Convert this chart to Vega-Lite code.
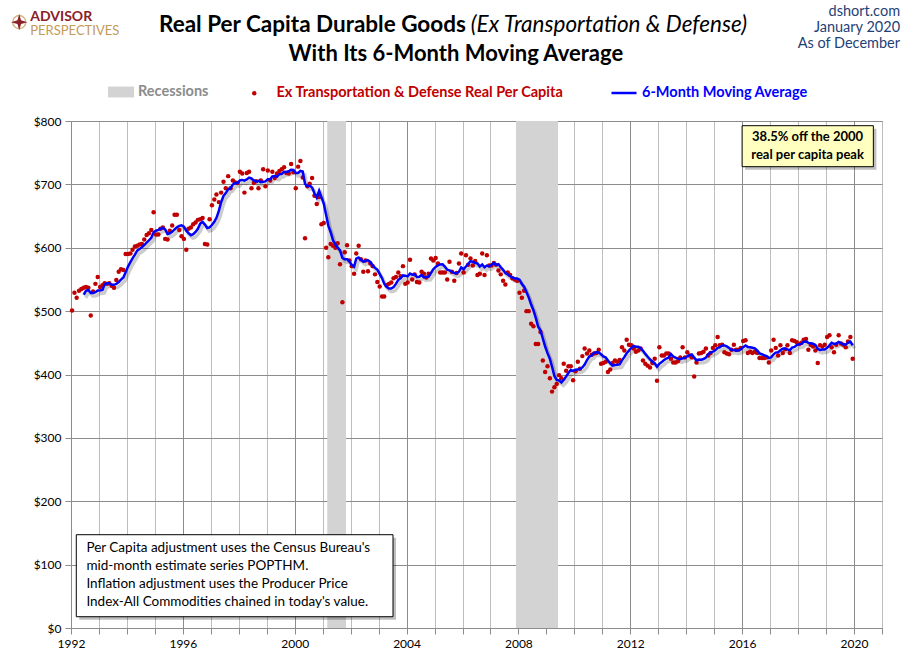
{
  "$schema": "https://vega.github.io/schema/vega-lite/v6.json",
  "width": 811,
  "height": 507,
  "autosize": {"type": "none"},
  "padding": {"left": 71, "top": 121, "right": 28, "bottom": 33},
  "background": "white",
  "config": {
    "font": "Lato",
    "view": {"stroke": "#8c8c8c", "strokeWidth": 1},
    "axis": {"labelFont": "Lato", "labelFontSize": 12, "labelColor": "#000000", "tickColor": "#8c8c8c", "domainColor": "#8c8c8c", "gridOpacity": 1, "tickSize": 6, "labelPadding": 4},
    "legend": {"labelFont": "Lato", "labelFontSize": 14.5, "labelFontWeight": "bold", "labelLimit": 400, "padding": 0}
  },
  "datasets": {
    "dur": [
      {"d":"1992-01-15","v":501},{"d":"1992-02-15","v":529},{"d":"1992-03-15","v":521},{"d":"1992-04-15","v":532},{"d":"1992-05-15","v":535},{"d":"1992-06-15","v":537},{"d":"1992-07-15","v":538},{"d":"1992-08-15","v":537},{"d":"1992-09-15","v":493},{"d":"1992-10-15","v":531},{"d":"1992-11-15","v":543},{"d":"1992-12-15","v":554},
      {"d":"1993-01-15","v":538},{"d":"1993-02-15","v":541},{"d":"1993-03-15","v":544},{"d":"1993-04-15","v":543},{"d":"1993-05-15","v":544},{"d":"1993-06-15","v":540},{"d":"1993-07-15","v":537},{"d":"1993-08-15","v":549},{"d":"1993-09-15","v":562},{"d":"1993-10-15","v":566},{"d":"1993-11-15","v":565},{"d":"1993-12-15","v":590},
      {"d":"1994-01-15","v":590},{"d":"1994-02-15","v":591},{"d":"1994-03-15","v":597},{"d":"1994-04-15","v":602},{"d":"1994-05-15","v":603},{"d":"1994-06-15","v":605},{"d":"1994-07-15","v":606},{"d":"1994-08-15","v":613},{"d":"1994-09-15","v":620},{"d":"1994-10-15","v":623},{"d":"1994-11-15","v":628},{"d":"1994-12-15","v":656},
      {"d":"1995-01-15","v":621},{"d":"1995-02-15","v":621},{"d":"1995-03-15","v":630},{"d":"1995-04-15","v":632},{"d":"1995-05-15","v":614},{"d":"1995-06-15","v":613},{"d":"1995-07-15","v":627},{"d":"1995-08-15","v":635},{"d":"1995-09-15","v":652},{"d":"1995-10-15","v":652},{"d":"1995-11-15","v":628},{"d":"1995-12-15","v":618},
      {"d":"1996-01-15","v":614},{"d":"1996-02-15","v":597},{"d":"1996-03-15","v":630},{"d":"1996-04-15","v":632},{"d":"1996-05-15","v":637},{"d":"1996-06-15","v":640},{"d":"1996-07-15","v":644},{"d":"1996-08-15","v":645},{"d":"1996-09-15","v":647},{"d":"1996-10-15","v":606},{"d":"1996-11-15","v":605},{"d":"1996-12-15","v":645},
      {"d":"1997-01-15","v":667},{"d":"1997-02-15","v":676},{"d":"1997-03-15","v":684},{"d":"1997-04-15","v":672},{"d":"1997-05-15","v":687},{"d":"1997-06-15","v":704},{"d":"1997-07-15","v":694},{"d":"1997-08-15","v":713},{"d":"1997-09-15","v":694},{"d":"1997-10-15","v":706},{"d":"1997-11-15","v":703},{"d":"1997-12-15","v":702},
      {"d":"1998-01-15","v":720},{"d":"1998-02-15","v":717},{"d":"1998-03-15","v":687},{"d":"1998-04-15","v":718},{"d":"1998-05-15","v":720},{"d":"1998-06-15","v":694},{"d":"1998-07-15","v":702},{"d":"1998-08-15","v":705},{"d":"1998-09-15","v":694},{"d":"1998-10-15","v":706},{"d":"1998-11-15","v":724},{"d":"1998-12-15","v":697},
      {"d":"1999-01-15","v":722},{"d":"1999-02-15","v":706},{"d":"1999-03-15","v":720},{"d":"1999-04-15","v":710},{"d":"1999-05-15","v":717},{"d":"1999-06-15","v":721},{"d":"1999-07-15","v":724},{"d":"1999-08-15","v":727},{"d":"1999-09-15","v":718},{"d":"1999-10-15","v":717},{"d":"1999-11-15","v":732},{"d":"1999-12-15","v":719},
      {"d":"2000-01-15","v":694},{"d":"2000-02-15","v":728},{"d":"2000-03-15","v":737},{"d":"2000-04-15","v":711},{"d":"2000-05-15","v":615},{"d":"2000-06-15","v":697},{"d":"2000-07-15","v":701},{"d":"2000-08-15","v":710},{"d":"2000-09-15","v":682},{"d":"2000-10-15","v":669},{"d":"2000-11-15","v":680},{"d":"2000-12-15","v":637},
      {"d":"2001-01-15","v":639},{"d":"2001-02-15","v":600},{"d":"2001-03-15","v":585},{"d":"2001-04-15","v":606},{"d":"2001-05-15","v":603},{"d":"2001-06-15","v":600},{"d":"2001-07-15","v":607},{"d":"2001-08-15","v":574},{"d":"2001-09-15","v":514},{"d":"2001-10-15","v":593},{"d":"2001-11-15","v":604},{"d":"2001-12-15","v":580},
      {"d":"2002-01-15","v":571},{"d":"2002-02-15","v":559},{"d":"2002-03-15","v":591},{"d":"2002-04-15","v":603},{"d":"2002-05-15","v":582},{"d":"2002-06-15","v":562},{"d":"2002-07-15","v":580},{"d":"2002-08-15","v":563},{"d":"2002-09-15","v":575},{"d":"2002-10-15","v":571},{"d":"2002-11-15","v":558},{"d":"2002-12-15","v":546},
      {"d":"2003-01-15","v":539},{"d":"2003-02-15","v":523},{"d":"2003-03-15","v":523},{"d":"2003-04-15","v":541},{"d":"2003-05-15","v":543},{"d":"2003-06-15","v":545},{"d":"2003-07-15","v":552},{"d":"2003-08-15","v":554},{"d":"2003-09-15","v":561},{"d":"2003-10-15","v":555},{"d":"2003-11-15","v":571},{"d":"2003-12-15","v":543},
      {"d":"2004-01-15","v":545},{"d":"2004-02-15","v":581},{"d":"2004-03-15","v":550},{"d":"2004-04-15","v":558},{"d":"2004-05-15","v":546},{"d":"2004-06-15","v":545},{"d":"2004-07-15","v":562},{"d":"2004-08-15","v":559},{"d":"2004-09-15","v":553},{"d":"2004-10-15","v":559},{"d":"2004-11-15","v":583},{"d":"2004-12-15","v":580},
      {"d":"2005-01-15","v":584},{"d":"2005-02-15","v":575},{"d":"2005-03-15","v":561},{"d":"2005-04-15","v":561},{"d":"2005-05-15","v":561},{"d":"2005-06-15","v":550},{"d":"2005-07-15","v":578},{"d":"2005-08-15","v":562},{"d":"2005-09-15","v":548},{"d":"2005-10-15","v":560},{"d":"2005-11-15","v":575},{"d":"2005-12-15","v":591},
      {"d":"2006-01-15","v":561},{"d":"2006-02-15","v":588},{"d":"2006-03-15","v":573},{"d":"2006-04-15","v":583},{"d":"2006-05-15","v":572},{"d":"2006-06-15","v":579},{"d":"2006-07-15","v":557},{"d":"2006-08-15","v":559},{"d":"2006-09-15","v":591},{"d":"2006-10-15","v":557},{"d":"2006-11-15","v":588},{"d":"2006-12-15","v":572},
      {"d":"2007-01-15","v":572},{"d":"2007-02-15","v":576},{"d":"2007-03-15","v":573},{"d":"2007-04-15","v":564},{"d":"2007-05-15","v":558},{"d":"2007-06-15","v":548},{"d":"2007-07-15","v":542},{"d":"2007-08-15","v":561},{"d":"2007-09-15","v":557},{"d":"2007-10-15","v":552},{"d":"2007-11-15","v":550},{"d":"2007-12-15","v":548},
      {"d":"2008-01-15","v":529},{"d":"2008-02-15","v":521},{"d":"2008-03-15","v":532},{"d":"2008-04-15","v":500},{"d":"2008-05-15","v":500},{"d":"2008-06-15","v":480},{"d":"2008-07-15","v":476},{"d":"2008-08-15","v":448},{"d":"2008-09-15","v":448},{"d":"2008-10-15","v":467},{"d":"2008-11-15","v":422},{"d":"2008-12-15","v":404},
      {"d":"2009-01-15","v":413},{"d":"2009-02-15","v":394},{"d":"2009-03-15","v":373},{"d":"2009-04-15","v":380},{"d":"2009-05-15","v":385},{"d":"2009-06-15","v":399},{"d":"2009-07-15","v":394},{"d":"2009-08-15","v":417},{"d":"2009-09-15","v":406},{"d":"2009-10-15","v":413},{"d":"2009-11-15","v":413},{"d":"2009-12-15","v":391},
      {"d":"2010-01-15","v":405},{"d":"2010-02-15","v":420},{"d":"2010-03-15","v":409},{"d":"2010-04-15","v":429},{"d":"2010-05-15","v":441},{"d":"2010-06-15","v":433},{"d":"2010-07-15","v":438},{"d":"2010-08-15","v":431},{"d":"2010-09-15","v":433},{"d":"2010-10-15","v":434},{"d":"2010-11-15","v":439},{"d":"2010-12-15","v":417},
      {"d":"2011-01-15","v":418},{"d":"2011-02-15","v":420},{"d":"2011-03-15","v":404},{"d":"2011-04-15","v":408},{"d":"2011-05-15","v":418},{"d":"2011-06-15","v":422},{"d":"2011-07-15","v":420},{"d":"2011-08-15","v":423},{"d":"2011-09-15","v":443},{"d":"2011-10-15","v":438},{"d":"2011-11-15","v":455},{"d":"2011-12-15","v":447},
      {"d":"2012-01-15","v":446},{"d":"2012-02-15","v":441},{"d":"2012-03-15","v":436},{"d":"2012-04-15","v":438},{"d":"2012-05-15","v":441},{"d":"2012-06-15","v":422},{"d":"2012-07-15","v":417},{"d":"2012-08-15","v":414},{"d":"2012-09-15","v":411},{"d":"2012-10-15","v":418},{"d":"2012-11-15","v":425},{"d":"2012-12-15","v":390},
      {"d":"2013-01-15","v":443},{"d":"2013-02-15","v":430},{"d":"2013-03-15","v":430},{"d":"2013-04-15","v":433},{"d":"2013-05-15","v":433},{"d":"2013-06-15","v":425},{"d":"2013-07-15","v":419},{"d":"2013-08-15","v":419},{"d":"2013-09-15","v":421},{"d":"2013-10-15","v":427},{"d":"2013-11-15","v":443},{"d":"2013-12-15","v":427},
      {"d":"2014-01-15","v":435},{"d":"2014-02-15","v":430},{"d":"2014-03-15","v":427},{"d":"2014-04-15","v":397},{"d":"2014-05-15","v":419},{"d":"2014-06-15","v":433},{"d":"2014-07-15","v":434},{"d":"2014-08-15","v":436},{"d":"2014-09-15","v":441},{"d":"2014-10-15","v":430},{"d":"2014-11-15","v":434},{"d":"2014-12-15","v":442},
      {"d":"2015-01-15","v":446},{"d":"2015-02-15","v":459},{"d":"2015-03-15","v":446},{"d":"2015-04-15","v":447},{"d":"2015-05-15","v":435},{"d":"2015-06-15","v":433},{"d":"2015-07-15","v":432},{"d":"2015-08-15","v":439},{"d":"2015-09-15","v":447},{"d":"2015-10-15","v":439},{"d":"2015-11-15","v":439},{"d":"2015-12-15","v":442},
      {"d":"2016-01-15","v":453},{"d":"2016-02-15","v":454},{"d":"2016-03-15","v":434},{"d":"2016-04-15","v":436},{"d":"2016-05-15","v":434},{"d":"2016-06-15","v":436},{"d":"2016-07-15","v":434},{"d":"2016-08-15","v":426},{"d":"2016-09-15","v":426},{"d":"2016-10-15","v":426},{"d":"2016-11-15","v":427},{"d":"2016-12-15","v":419},
      {"d":"2017-01-15","v":438},{"d":"2017-02-15","v":455},{"d":"2017-03-15","v":442},{"d":"2017-04-15","v":430},{"d":"2017-05-15","v":446},{"d":"2017-06-15","v":434},{"d":"2017-07-15","v":440},{"d":"2017-08-15","v":446},{"d":"2017-09-15","v":434},{"d":"2017-10-15","v":454},{"d":"2017-11-15","v":453},{"d":"2017-12-15","v":451},
      {"d":"2018-01-15","v":448},{"d":"2018-02-15","v":450},{"d":"2018-03-15","v":455},{"d":"2018-04-15","v":456},{"d":"2018-05-15","v":439},{"d":"2018-06-15","v":447},{"d":"2018-07-15","v":444},{"d":"2018-08-15","v":438},{"d":"2018-09-15","v":418},{"d":"2018-10-15","v":446},{"d":"2018-11-15","v":444},{"d":"2018-12-15","v":447},
      {"d":"2019-01-15","v":459},{"d":"2019-02-15","v":462},{"d":"2019-03-15","v":443},{"d":"2019-04-15","v":435},{"d":"2019-05-15","v":447},{"d":"2019-06-15","v":462},{"d":"2019-07-15","v":449},{"d":"2019-08-15","v":447},{"d":"2019-09-15","v":443},{"d":"2019-10-15","v":452},{"d":"2019-11-15","v":459},{"d":"2019-12-15","v":425}
    ]
  },
  "layer": [
    {
      "data": {"values": [{"s": "2001-03-01", "e": "2001-11-01"}, {"s": "2007-12-01", "e": "2009-06-01"}]},
      "mark": {"type": "rect"},
      "encoding": {
        "x": {"field": "s", "type": "temporal", "title": null},
        "x2": {"field": "e"},
        "fill": {
          "datum": "Recessions", "type": "nominal",
          "scale": {"range": ["#d3d3d3"]},
          "legend": {"orient": "none", "legendX": 37, "legendY": -42, "title": null, "symbolType": "M-1,-0.42H1V0.42H-1Z", "symbolSize": 676, "symbolStrokeWidth": 0, "symbolFillColor": "#d3d3d3", "labelColor": "#8c8c8c", "labelOffset": 4}
        }
      }
    },
    {
      "data": {"name": "dur"},
      "transform": [
        {"window": [{"op": "mean", "field": "v", "as": "ma"}, {"op": "count", "as": "n"}], "frame": [-5, 0], "sort": [{"field": "d", "order": "ascending"}]},
        {"filter": "datum.n == 6"}
      ],
      "mark": {"type": "line", "stroke": "#000000", "opacity": 0.2, "strokeWidth": 3.5, "xOffset": 2, "yOffset": 3},
      "encoding": {
        "x": {"field": "d", "type": "temporal", "title": null},
        "y": {"field": "ma", "type": "quantitative", "title": null}
      }
    },
    {
      "data": {"name": "dur"},
      "mark": {"type": "point", "filled": true, "size": 20, "opacity": 1},
      "encoding": {
        "x": {
          "field": "d", "type": "temporal", "title": null,
          "scale": {"type": "utc", "domain": [{"year": 1992, "month": 1, "date": 1, "utc": true}, {"year": 2021, "month": 1, "date": 1, "utc": true}], "nice": false},
          "axis": {
            "tickCount": {"interval": "year", "step": 1},
            "format": "%Y",
            "labelExpr": "utcyear(datum.value) % 4 == 0 ? datum.label : ''",
            "labelOverlap": false,
            "labelFlush": false,
            "gridColor": {"condition": {"test": "utcyear(datum.value) % 4 == 0", "value": "#8c8c8c"}, "value": "#bdbdbd"}
          }
        },
        "y": {
          "field": "v", "type": "quantitative", "title": null,
          "scale": {"domain": [0, 800], "nice": false},
          "axis": {"values": [0, 100, 200, 300, 400, 500, 600, 700, 800], "format": "$,.0f", "gridColor": "#8c8c8c"}
        },
        "color": {
          "datum": "Ex Transportation & Defense Real Per Capita", "type": "nominal",
          "scale": {"range": ["#c00000"]},
          "legend": {"orient": "none", "legendX": 176, "legendY": -35, "title": null, "symbolType": "circle", "symbolSize": 20, "symbolFillColor": "#c00000", "symbolStrokeWidth": 0, "labelColor": "#c00000", "labelOffset": 15}
        }
      }
    },
    {
      "data": {"name": "dur"},
      "transform": [
        {"window": [{"op": "mean", "field": "v", "as": "ma"}, {"op": "count", "as": "n"}], "frame": [-5, 0], "sort": [{"field": "d", "order": "ascending"}]},
        {"filter": "datum.n == 6"}
      ],
      "mark": {"type": "line", "strokeWidth": 2.5},
      "encoding": {
        "x": {"field": "d", "type": "temporal", "title": null},
        "y": {"field": "ma", "type": "quantitative", "title": null},
        "stroke": {
          "datum": "6-Month Moving Average", "type": "nominal",
          "scale": {"range": ["#0000ff"]},
          "legend": {"orient": "none", "legendX": 539, "legendY": -42, "title": null, "symbolType": "stroke", "symbolSize": 625, "symbolStrokeWidth": 2.5, "symbolStrokeColor": "#0000ff", "labelColor": "#0000ff", "labelOffset": 4}
        }
      }
    },
    {
      "data": {"values": [{}]},
      "mark": {"type": "rect", "fill": "#000000", "opacity": 0.25, "xOffset": 3, "x2Offset": 3, "yOffset": 3, "y2Offset": 3},
      "encoding": {
        "x": {"datum": {"year": 2016, "month": 1, "date": 1, "utc": true}, "type": "temporal", "title": null},
        "x2": {"datum": {"year": 2020, "month": 9, "date": 10, "utc": true}},
        "y": {"datum": 792.6, "type": "quantitative", "title": null},
        "y2": {"datum": 727.9}
      }
    },
    {
      "data": {"values": [{}]},
      "mark": {"type": "rect", "fill": "#ffffc0", "stroke": "#000000", "strokeWidth": 1},
      "encoding": {
        "x": {"datum": {"year": 2016, "month": 1, "date": 1, "utc": true}, "type": "temporal", "title": null},
        "x2": {"datum": {"year": 2020, "month": 9, "date": 10, "utc": true}},
        "y": {"datum": 792.6, "type": "quantitative", "title": null},
        "y2": {"datum": 727.9}
      }
    },
    {
      "data": {"values": [{}]},
      "mark": {"type": "text", "text": ["38.5% off the 2000", "real per capita peak"], "font": "Lato", "fontSize": 13, "fontWeight": "bold", "color": "#000000", "align": "center", "baseline": "middle", "lineHeight": 18},
      "encoding": {
        "x": {"datum": {"year": 2018, "month": 5, "date": 5, "utc": true}, "type": "temporal", "title": null},
        "y": {"datum": 774.8, "type": "quantitative", "title": null}
      }
    },
    {
      "data": {"values": [{}]},
      "mark": {"type": "rect", "fill": "#000000", "opacity": 0.25, "xOffset": 3, "x2Offset": 3, "yOffset": 3, "y2Offset": 3},
      "encoding": {
        "x": {"datum": {"year": 1992, "month": 3, "date": 10, "utc": true}, "type": "temporal", "title": null},
        "x2": {"datum": {"year": 2003, "month": 7, "date": 8, "utc": true}},
        "y": {"datum": 147.2, "type": "quantitative", "title": null},
        "y2": {"datum": 17.8}
      }
    },
    {
      "data": {"values": [{}]},
      "mark": {"type": "rect", "fill": "#ffffff", "stroke": "#000000", "strokeWidth": 1},
      "encoding": {
        "x": {"datum": {"year": 1992, "month": 3, "date": 10, "utc": true}, "type": "temporal", "title": null},
        "x2": {"datum": {"year": 2003, "month": 7, "date": 8, "utc": true}},
        "y": {"datum": 147.2, "type": "quantitative", "title": null},
        "y2": {"datum": 17.8}
      }
    },
    {
      "data": {"values": [{}]},
      "mark": {"type": "text", "text": ["Per Capita adjustment uses the Census Bureau's", "mid-month estimate series POPTHM.", "Inflation adjustment uses the Producer Price", "Index-All Commodities chained in today's value."], "font": "Lato", "fontSize": 13.5, "color": "#000000", "align": "left", "baseline": "middle", "lineHeight": 18},
      "encoding": {
        "x": {"datum": {"year": 1992, "month": 7, "date": 20, "utc": true}, "type": "temporal", "title": null},
        "y": {"datum": 126.2, "type": "quantitative", "title": null}
      }
    },
    {
      "data": {"values": [{}]},
      "mark": {"type": "text", "text": "Real Per Capita Durable Goods", "font": "Lato", "fontSize": 22.5, "fontWeight": "bold", "color": "#000000", "align": "right", "baseline": "middle"},
      "encoding": {
        "x": {"datum": {"year": 2006, "month": 2, "date": 14, "utc": true}, "type": "temporal", "title": null},
        "y": {"datum": 951.5, "type": "quantitative", "title": null}
      }
    },
    {
      "data": {"values": [{}]},
      "mark": {"type": "text", "text": "(Ex Transportation & Defense)", "font": "Lato", "fontSize": 22.5, "fontStyle": "italic", "fontWeight": "normal", "color": "#000000", "align": "left", "baseline": "middle"},
      "encoding": {
        "x": {"datum": {"year": 2006, "month": 4, "date": 19, "utc": true}, "type": "temporal", "title": null},
        "y": {"datum": 951.5, "type": "quantitative", "title": null}
      }
    },
    {
      "data": {"values": [{}]},
      "mark": {"type": "text", "text": "With Its 6-Month Moving Average", "font": "Lato", "fontSize": 22, "fontWeight": "bold", "color": "#000000", "align": "center", "baseline": "middle"},
      "encoding": {
        "x": {"datum": {"year": 2005, "month": 10, "date": 6, "utc": true}, "type": "temporal", "title": null},
        "y": {"datum": 906, "type": "quantitative", "title": null}
      }
    },
    {
      "data": {"values": [{}]},
      "mark": {"type": "text", "text": ["dshort.com", "January 2020", "As of December"], "font": "Lato", "fontSize": 14.5, "color": "#1f3f77", "align": "right", "baseline": "middle", "lineHeight": 16},
      "encoding": {
        "x": {"datum": {"year": 2021, "month": 8, "date": 25, "utc": true}, "type": "temporal", "title": null},
        "y": {"datum": 972, "type": "quantitative", "title": null}
      }
    },
    {
      "data": {"values": [{}]},
      "mark": {"type": "text", "text": "ADVISOR", "font": "Lato", "fontSize": 14, "fontWeight": "bold", "color": "#8b2027", "align": "left", "baseline": "alphabetic"},
      "encoding": {
        "x": {"datum": {"year": 1990, "month": 7, "date": 18, "utc": true}, "type": "temporal", "title": null},
        "y": {"datum": 958, "type": "quantitative", "title": null}
      }
    },
    {
      "data": {"values": [{}]},
      "mark": {"type": "text", "text": "PERSPECTIVES", "font": "Lato", "fontSize": 13, "fontWeight": "normal", "color": "#c49a55", "align": "left", "baseline": "alphabetic"},
      "encoding": {
        "x": {"datum": {"year": 1990, "month": 7, "date": 18, "utc": true}, "type": "temporal", "title": null},
        "y": {"datum": 936, "type": "quantitative", "title": null}
      }
    },
    {
      "data": {"values": [{}]},
      "mark": {"type": "point", "shape": "circle", "size": 170, "filled": false, "stroke": "#c49a55", "strokeWidth": 1.5},
      "encoding": {
        "x": {"datum": {"year": 1990, "month": 2, "date": 24, "utc": true}, "type": "temporal", "title": null},
        "y": {"datum": 956, "type": "quantitative", "title": null}
      }
    },
    {
      "data": {"values": [{}]},
      "mark": {"type": "point", "shape": "M0,-1L0.22,-0.22L1,0L0.22,0.22L0,1L-0.22,0.22L-1,0L-0.22,-0.22Z", "size": 260, "filled": true, "color": "#8b2027", "opacity": 1},
      "encoding": {
        "x": {"datum": {"year": 1990, "month": 2, "date": 24, "utc": true}, "type": "temporal", "title": null},
        "y": {"datum": 956, "type": "quantitative", "title": null}
      }
    }
  ]
}
